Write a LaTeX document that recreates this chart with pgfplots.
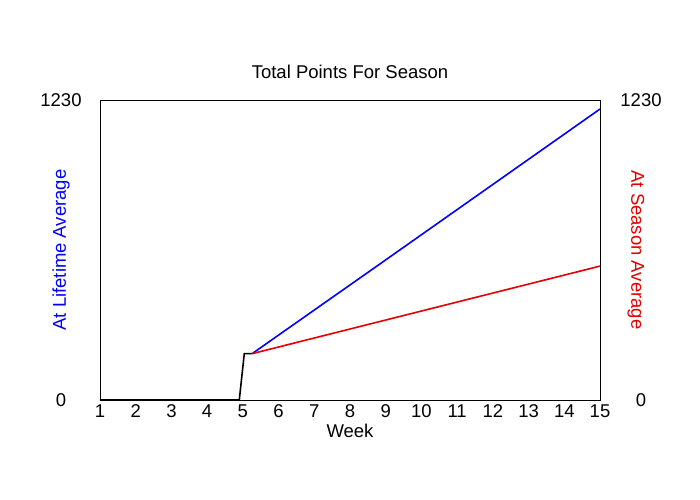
\documentclass[border=0pt]{standalone}
\usepackage{fontspec}
\setmainfont{Liberation Sans}
\usepackage{pgfplots}
\pgfplotsset{compat=1.18}

\pgfplotsset{
  common/.style={
    scale only axis, width=500bp, height=300bp,
    xmin=1, xmax=15, ymin=0, ymax=1230,
    ytick={0,1230},
    major tick length=0pt, tick style={draw=none},
    axis line style={line width=0.8bp},
    /pgf/number format/assume math mode=true,
    /pgf/number format/1000 sep={},
  },
}

\begin{document}
\begin{tikzpicture}[font=\fontsize{18.5bp}{22bp}\selectfont]
\useasboundingbox (-100bp,-100bp) rectangle (600bp,400bp);

\begin{axis}[common,
    xtick={1,...,15},
    title={Total Points For Season},
    title style={at={(axis description cs:0.5,1)}, anchor=base, yshift=16bp},
    xlabel={Week},
    xlabel style={at={(axis description cs:0.5,0)}, anchor=base, yshift=-37bp},
    ylabel={At Lifetime Average},
    ylabel style={at={(axis description cs:-0.078,0.5)}, anchor=center, text=blue},
    xticklabel style={anchor=base, yshift=-17bp},
    yticklabel style={anchor=center, xshift=-39bp},
]
\addplot[blue, line width=1.6bp] coordinates {(5.26,190)(8.84,558)(15,1193)};
\addplot[red!90!black, line width=1.6bp] coordinates {(5.26,190)(8.84,322)(15,549)};
\addplot[black, line width=1.6bp] coordinates {(1,0)(4.9,0)(5.04,190)(5.26,190)};
\end{axis}

\begin{axis}[common,
    axis y line*=right, axis x line=none,
    ylabel={At Season Average},
    ylabel style={at={(axis description cs:1.072,0.5)}, anchor=center, rotate=180, text=red!90!black},
    yticklabel style={anchor=center, xshift=41bp},
]
\end{axis}
\end{tikzpicture}
\end{document}
